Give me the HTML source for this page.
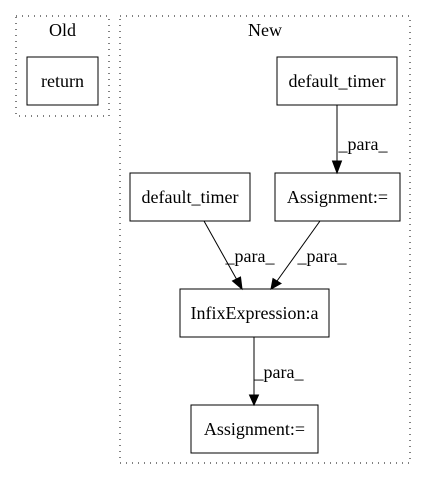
<!DOCTYPE html>
<html><head><style>body{margin:0;background:#fff}</style></head><body>
<svg width="427" height="480" viewBox="0 0 427 480" xmlns="http://www.w3.org/2000/svg" font-family="Liberation Serif, serif" font-size="18">
<rect x="0" y="0" width="427" height="480" fill="#fff"/>
<g fill="none" stroke="#000" stroke-dasharray="1,5">
<rect x="16" y="16" width="93" height="100"/>
<rect x="120" y="16" width="290" height="447"/>
</g>
<g text-anchor="middle" fill="#000">
<text x="62.5" y="36">Old</text>
<text x="265" y="36">New</text>
</g>
<g fill="none" stroke="#000">
<rect x="27" y="57" width="71" height="48"/>
<rect x="277" y="57" width="120" height="48"/>
<rect x="275" y="173" width="125" height="48"/>
<rect x="130" y="173" width="120" height="48"/>
<rect x="180" y="289" width="149" height="48"/>
<rect x="191" y="405" width="127" height="48"/>
<line x1="337" y1="105" x2="337" y2="163"/>
<line x1="204" y1="221" x2="237" y2="280"/>
<line x1="320" y1="221" x2="277" y2="281"/>
<line x1="254" y1="337" x2="254" y2="395"/>
</g>
<g fill="#000" stroke="#000">
<polygon points="332.5,161 341.5,161 337,173"/>
<polygon points="232.5,281 240.5,277 242,289"/>
<polygon points="273,278.5 281,283.5 271,289"/>
<polygon points="249.5,395 258.5,395 254,405"/>
</g>
<g text-anchor="middle" fill="#000">
<text x="62.5" y="87">return</text>
<text x="337" y="87">default_timer</text>
<text x="337.5" y="203">Assignment:=</text>
<text x="190" y="203">default_timer</text>
<text x="254.5" y="319">InfixExpression:a</text>
<text x="254.5" y="435">Assignment:=</text>
<text x="363" y="150">_para_</text>
<text x="250" y="262">_para_</text>
<text x="322" y="262">_para_</text>
<text x="279" y="378">_para_</text>
</g>
</svg>
</body></html>
